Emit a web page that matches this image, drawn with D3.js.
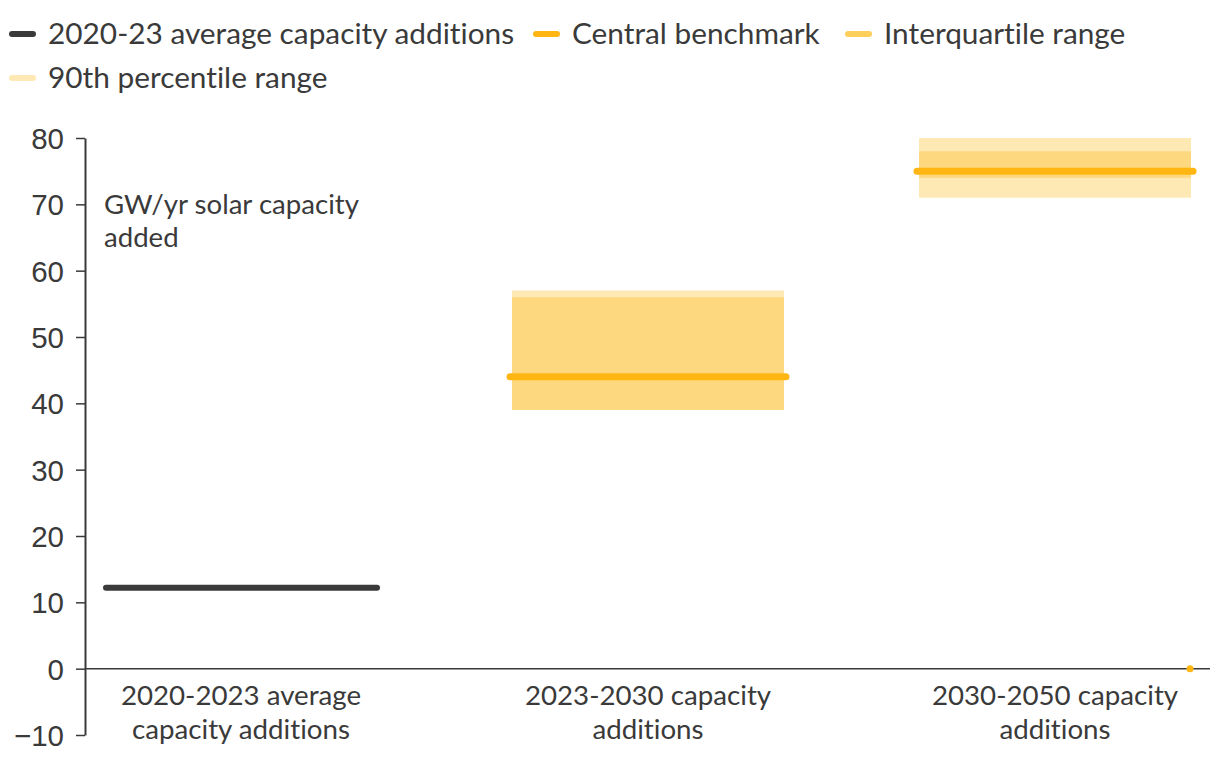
<!DOCTYPE html>
<html><head><meta charset="utf-8">
<script src="https://cdn.jsdelivr.net/npm/d3@7"></script>
<style>body{margin:0;background:#fff;}svg{font-family:Lato,"Open Sans",sans-serif;}
text,tspan{font-variant-ligatures:none;font-feature-settings:"liga" 0,"clig" 0,"dlig" 0,"calt" 0;}</style>
</head><body>
<svg id="c" width="1220" height="760"></svg>
<script>
const categories = ["2020-2023 average\ncapacity additions", "2023-2030 capacity\nadditions", "2030-2050 capacity\nadditions"];
const historical = [12.2, null, null];
const central = [null, 44, 75];
const iqrLow = [null, 39, 74];
const iqrHigh = [null, 56, 78];
const p90Low = [null, 39, 71];
const p90High = [null, 57, 80];
const yTicks = [-10, 0, 10, 20, 30, 40, 50, 60, 70, 80];
const legendItems = ["2020-23 average capacity additions", "Central benchmark", "Interquartile range", "90th percentile range"];

const dark = "#3a3a3a", orange = "#FFB612", iqrCol = "#FED87E", p90Col = "#FEE9B4";
const svg = d3.select("#c");
const y = d3.scaleLinear().domain([-10, 80]).range([735, 138]);
const x = d3.scalePoint().domain(categories).range([241, 1055]);
const half = 136;

// y axis
const ax = svg.append("g").attr("transform", "translate(85,0)")
  .call(d3.axisLeft(y).tickValues(yTicks).tickSize(9).tickPadding(12).tickSizeOuter(0));
ax.select(".domain").attr("stroke", dark).attr("stroke-width", 2);
ax.selectAll(".tick line").attr("stroke", dark).attr("stroke-width", 1.5);
ax.selectAll(".tick text").attr("font-size", 29.5).attr("fill", dark)
  .attr("font-family", "'Liberation Sans', Arial, sans-serif").attr("dy", "0.36em");

// zero line
svg.append("line").attr("x1", 85).attr("x2", 1210).attr("y1", y(0)).attr("y2", y(0))
  .attr("stroke", dark).attr("stroke-width", 1.5);

// bands
categories.forEach((c, i) => {
  if (p90Low[i] != null) {
    svg.append("rect").attr("x", x(c) - half).attr("width", half * 2)
      .attr("y", y(p90High[i])).attr("height", y(p90Low[i]) - y(p90High[i])).attr("fill", p90Col);
  }
  if (iqrLow[i] != null) {
    svg.append("rect").attr("x", x(c) - half).attr("width", half * 2)
      .attr("y", y(iqrHigh[i])).attr("height", y(iqrLow[i]) - y(iqrHigh[i])).attr("fill", iqrCol);
  }
});
categories.forEach((c, i) => {
  if (central[i] != null) {
    svg.append("line").attr("x1", x(c) - half - 2).attr("x2", x(c) + half + 2)
      .attr("y1", y(central[i])).attr("y2", y(central[i]))
      .attr("stroke", orange).attr("stroke-width", 7).attr("stroke-linecap", "round");
  }
  if (historical[i] != null) {
    svg.append("line").attr("x1", x(c) - half + 1).attr("x2", x(c) + half)
      .attr("y1", y(historical[i])).attr("y2", y(historical[i]))
      .attr("stroke", dark).attr("stroke-width", 6).attr("stroke-linecap", "round");
  }
});
// small orange dot at the zero line end
svg.append("circle").attr("cx", x(categories[2]) + half - 1).attr("cy", y(0)).attr("r", 3.5).attr("fill", orange);

// x labels
categories.forEach(c => {
  const t = svg.append("text").attr("x", x(c)).attr("y", 705).attr("text-anchor", "middle")
    .attr("font-size", 27.7).attr("fill", dark);
  c.split("\n").forEach((l, k) => t.append("tspan").attr("x", x(c)).attr("dy", k ? 34 : 0).text(l));
});

// axis title
const tt = svg.append("text").attr("x", 104).attr("y", 214).attr("font-size", 27.6).attr("fill", dark);
tt.append("tspan").attr("x", 104).text("GW/yr solar capacity");
tt.append("tspan").attr("x", 104).attr("dy", 33).text("added");

// legend
const legCols = [dark, orange, "#FFCF5C", p90Col];
const legPos = [[12, 34], [536, 34], [848, 34], [12, 78]];
legendItems.forEach((l, i) => {
  const [lx, ly] = legPos[i];
  svg.append("line").attr("x1", lx + 0).attr("x2", lx + 21).attr("y1", ly).attr("y2", ly)
    .attr("stroke", legCols[i]).attr("stroke-width", 6).attr("stroke-linecap", "round");
  svg.append("text").attr("x", lx + 36).attr("y", ly).attr("dy", "0.35em")
    .attr("font-size", 29.8).attr("fill", dark).text(l);
});
</script>
</body></html>
